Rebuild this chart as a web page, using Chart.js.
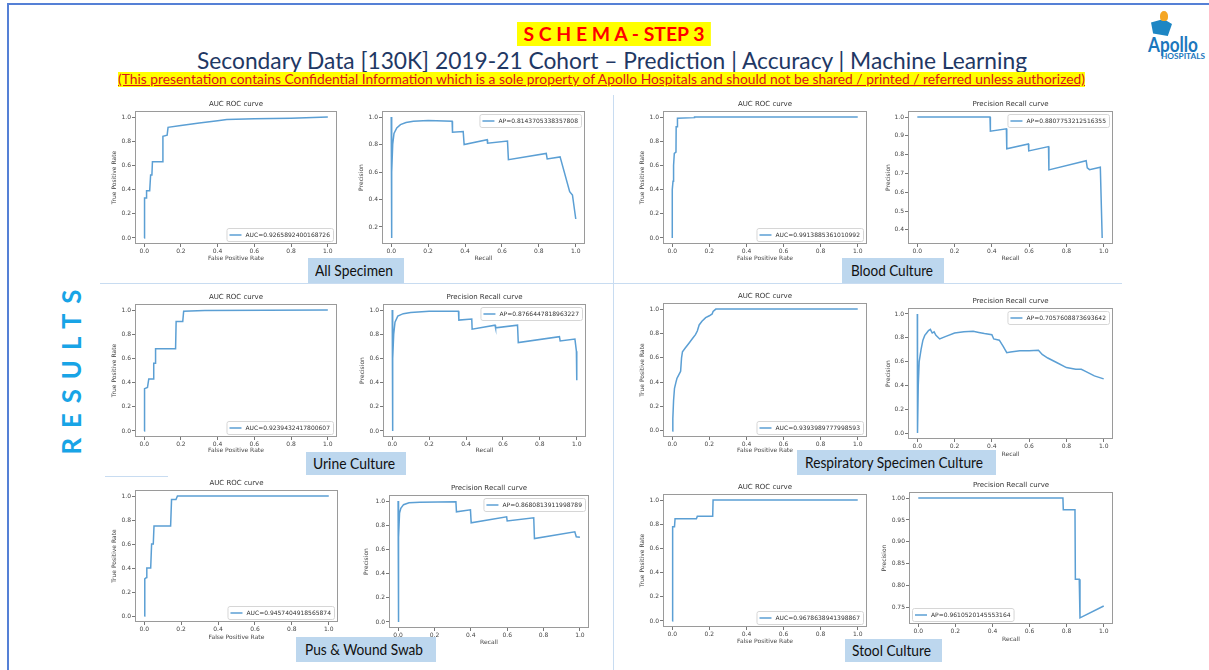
<!DOCTYPE html>
<html><head><meta charset="utf-8">
<script src="https://cdn.jsdelivr.net/npm/chart.js@4.4.1/dist/chart.umd.min.js"></script>
<style>
html,body{margin:0;padding:0;}
body{width:1209px;height:670px;overflow:hidden;background:#fff;position:relative;font-family:Lato,"Open Sans",sans-serif;}
canvas{position:absolute;}
.frame{position:absolute;left:7px;top:3px;width:1230px;height:700px;border:2px solid #5580d6;box-sizing:border-box;}
.fit{position:absolute;white-space:nowrap;transform-origin:0 50%;}
.hl{position:absolute;height:1px;background:#c8dcf1;}
.vl{position:absolute;width:1px;background:#c8dcf1;}
.lbl{position:absolute;background:#bdd7ee;}
</style></head><body>
<div class="frame"></div>
<div class="fit" data-w="194" style="left:517px;top:22px;height:24px;line-height:24px;padding:0 6px;background:#ffff00;color:#ff0000;font-weight:700;font-size:18px;">S C H E M A - STEP 3</div>
<div class="fit" data-w="830" style="left:197px;top:46px;line-height:28px;font-size:23px;color:#1f3864;">Secondary Data [130K] 2019-21 Cohort – Prediction | Accuracy | Machine Learning</div>
<div class="fit" data-w="967" style="left:118px;top:72px;height:15px;line-height:15px;font-size:13px;background:#ffff00;color:#d9141b;text-decoration:underline;">(This presentation contains Confidential Information which is a sole property of Apollo Hospitals and should not be shared / printed / referred unless authorized)</div>
<div style="position:absolute;left:1151px;top:19px;width:21px;height:17px;background:#1d86c4;clip-path:polygon(0 20%,60% 0,100% 30%,80% 100%,10% 85%);"></div>
<div style="position:absolute;left:1160px;top:11px;width:8px;height:10px;background:#f5a623;border-radius:50% 50% 40% 40%;"></div>
<div class="fit" data-w="50" style="left:1148px;top:34px;line-height:20px;font-size:20px;font-weight:700;color:#1b77bd;">Apollo</div>
<div class="fit" data-w="44" style="left:1161px;top:53px;line-height:7px;font-size:7px;font-weight:700;color:#1b77bd;">HOSPITALS</div>
<div id="results" style="position:absolute;white-space:nowrap;font-size:26px;font-weight:700;color:#18a4e6;letter-spacing:10px;line-height:26px;">RESULTS</div>
<div class="vl" style="left:613px;top:95px;height:575px;"></div>
<div class="hl" style="left:100px;top:283px;width:1022px;"></div>
<div class="hl" style="left:105px;top:476px;width:63px;"></div>
<script>
// ---------- DATA ----------
const rocXTicks = [0, 0.2, 0.4, 0.6, 0.8, 1.0];
const unitYTicks = [0, 0.2, 0.4, 0.6, 0.8, 1.0];
const allPrYTicks = [0.2, 0.4, 0.6, 0.8, 1.0];
const bloodPrYTicks = [0.4, 0.5, 0.6, 0.7, 0.8, 0.9, 1.0];
const stoolPrYTicks = [0.75, 0.80, 0.85, 0.90, 0.95, 1.00];

const rocTitle = 'AUC ROC curve';
const prTitle = 'Precision Recall curve';
const specimens = ['All Specimen', 'Blood Culture', 'Urine Culture', 'Respiratory Specimen Culture', 'Pus & Wound Swab', 'Stool Culture'];
const aucLabels = ['AUC=0.9265892400168726', 'AUC=0.9913885361010992', 'AUC=0.9239432417800607', 'AUC=0.9393989777998593', 'AUC=0.9457404918565874', 'AUC=0.9678638941398867'];
const apLabels = ['AP=0.8143705338357808', 'AP=0.8807753212516355', 'AP=0.8766447818963227', 'AP=0.7057608873693642', 'AP=0.8680813911998789', 'AP=0.9610520145553164'];

const allRocFpr = [0, 0, 0.004, 0.013, 0.013, 0.03, 0.035, 0.042, 0.045, 0.1, 0.102, 0.125, 0.13, 0.2, 0.3, 0.4, 0.45, 0.6, 0.8, 1];
const allRocTpr = [0, 0.15, 0.33, 0.33, 0.39, 0.39, 0.52, 0.52, 0.63, 0.63, 0.84, 0.85, 0.915, 0.93, 0.95, 0.97, 0.98, 0.985, 0.99, 1];
const allPrRecall = [0, 0.001, 0.004, 0.008, 0.015, 0.03, 0.05, 0.08, 0.12, 0.2, 0.33, 0.332, 0.39, 0.395, 0.52, 0.522, 0.63, 0.635, 0.84, 0.845, 0.915, 0.967, 0.982, 1.0];
const allPrPrecision = [1.0, 0.12, 0.6, 0.8, 0.88, 0.92, 0.945, 0.96, 0.97, 0.975, 0.97, 0.89, 0.895, 0.80, 0.835, 0.81, 0.825, 0.69, 0.735, 0.695, 0.71, 0.457, 0.433, 0.258];

const bloodRocFpr = [0, 0, 0.004, 0.007, 0.011, 0.02, 0.021, 0.026, 0.028, 0.12, 0.12, 1];
const bloodRocTpr = [0, 0.4, 0.47, 0.6, 0.7, 0.71, 0.92, 0.92, 0.99, 0.995, 1.0, 1];
const bloodPrRecall = [0, 0.39, 0.392, 0.478, 0.48, 0.596, 0.598, 0.704, 0.706, 0.906, 0.912, 0.924, 0.982, 0.992];
const bloodPrPrecision = [1.0, 1.0, 0.925, 0.937, 0.831, 0.857, 0.82, 0.843, 0.719, 0.768, 0.73, 0.72, 0.733, 0.357];

const urineRocFpr = [0, 0.002, 0.018, 0.025, 0.05, 0.052, 0.06, 0.062, 0.171, 0.174, 0.21, 0.215, 0.33, 1];
const urineRocTpr = [0, 0.35, 0.36, 0.43, 0.43, 0.56, 0.56, 0.68, 0.68, 0.905, 0.905, 0.99, 0.997, 1];
const urinePrRecall = [0, 0.001, 0.004, 0.008, 0.015, 0.03, 0.06, 0.1, 0.2, 0.359, 0.361, 0.431, 0.433, 0.557, 0.56, 0.679, 0.683, 0.906, 0.91, 0.99, 0.998, 1.0];
const urinePrPrecision = [1.0, 0.0, 0.6, 0.8, 0.9, 0.95, 0.97, 0.98, 0.99, 0.99, 0.917, 0.925, 0.842, 0.875, 0.853, 0.875, 0.731, 0.78, 0.745, 0.76, 0.66, 0.42];

const respRocFpr = [0, 0.003, 0.007, 0.012, 0.02, 0.025, 0.035, 0.045, 0.05, 0.055, 0.07, 0.09, 0.11, 0.125, 0.135, 0.145, 0.16, 0.18, 0.2, 0.215, 0.22, 0.235, 1];
const respRocTpr = [0, 0.1, 0.25, 0.35, 0.4, 0.43, 0.46, 0.49, 0.6, 0.65, 0.68, 0.72, 0.76, 0.79, 0.82, 0.87, 0.9, 0.93, 0.945, 0.96, 0.98, 1.0, 1];
const respPrRecall = [0, 0.001, 0.005, 0.01, 0.02, 0.03, 0.04, 0.05, 0.06, 0.07, 0.08, 0.09, 0.1, 0.12, 0.15, 0.2, 0.25, 0.3, 0.33, 0.36, 0.4, 0.41, 0.44, 0.46, 0.48, 0.5, 0.55, 0.6, 0.65, 0.67, 0.7, 0.75, 0.8, 0.85, 0.88, 0.9, 0.95, 1.0];
const respPrPrecision = [1.0, 0.0, 0.4, 0.6, 0.7, 0.78, 0.82, 0.84, 0.86, 0.87, 0.84, 0.85, 0.82, 0.79, 0.81, 0.84, 0.85, 0.855, 0.845, 0.835, 0.825, 0.79, 0.78, 0.73, 0.675, 0.68, 0.69, 0.69, 0.695, 0.66, 0.63, 0.59, 0.55, 0.535, 0.535, 0.52, 0.48, 0.455];

const pusRocFpr = [0, 0.003, 0.012, 0.014, 0.035, 0.04, 0.049, 0.053, 0.143, 0.148, 0.172, 0.18, 1];
const pusRocTpr = [0, 0.31, 0.32, 0.4, 0.4, 0.6, 0.6, 0.75, 0.75, 0.97, 0.97, 1.0, 1];
const pusPrRecall = [0, 0.001, 0.004, 0.008, 0.015, 0.03, 0.06, 0.12, 0.318, 0.321, 0.398, 0.402, 0.597, 0.6, 0.746, 0.75, 0.972, 0.98, 1.0];
const pusPrPrecision = [1.0, 0.0, 0.7, 0.9, 0.94, 0.97, 0.985, 0.99, 0.995, 0.911, 0.927, 0.82, 0.87, 0.835, 0.862, 0.69, 0.745, 0.705, 0.7];

const stoolRocFpr = [0, 0.002, 0.012, 0.015, 0.13, 0.135, 0.218, 0.22, 1];
const stoolRocTpr = [0, 0.78, 0.78, 0.845, 0.845, 0.865, 0.865, 1.0, 1];
const stoolPrRecall = [0, 0.78, 0.782, 0.845, 0.847, 0.868, 0.872, 1.0];
const stoolPrPrecision = [1.0, 1.0, 0.973, 0.973, 0.815, 0.815, 0.727, 0.754];

// ---------- LAYOUT (positions only) ----------
const BLUE = '#5b9fd4';
const panels = [
  {box:[135,111,337,244], xs:allRocFpr, ys:allRocTpr, title:rocTitle, legend:aucLabels[0], loc:'lr', xt:'False Positive Rate', yt:'True Positive Rate', yr:[-0.05,1.05], yticks:unitYTicks, yOff:20, xOff:14},
  {box:[382,111,585,244], xs:allPrRecall, ys:allPrPrecision, title:null, legend:apLabels[0], loc:'ur', xt:'Recall', yt:'Precision', yr:[0.076,1.044], yticks:allPrYTicks, yOff:20, xOff:14},
  {box:[663,111,867,244], xs:bloodRocFpr, ys:bloodRocTpr, title:rocTitle, legend:aucLabels[1], loc:'lr', xt:'False Positive Rate', yt:'True Positive Rate', yr:[-0.05,1.05], yticks:unitYTicks, yOff:20, xOff:14},
  {box:[908,111,1113,244], xs:bloodPrRecall, ys:bloodPrPrecision, title:prTitle, legend:apLabels[1], loc:'ur', xt:'Recall', yt:'Precision', yr:[0.325,1.032], yticks:bloodPrYTicks, yOff:19, xOff:14},
  {box:[135,304,337,437], xs:urineRocFpr, ys:urineRocTpr, title:rocTitle, legend:aucLabels[2], loc:'lr', xt:'False Positive Rate', yt:'True Positive Rate', yr:[-0.05,1.05], yticks:unitYTicks, yOff:20, xOff:13},
  {box:[383,304,586,437], xs:urinePrRecall, ys:urinePrPrecision, title:prTitle, legend:apLabels[2], loc:'ur', xt:'Recall', yt:'Precision', yr:[-0.05,1.05], yticks:unitYTicks, yOff:20, xOff:13},
  {box:[663,303,867,437], xs:respRocFpr, ys:respRocTpr, title:rocTitle, legend:aucLabels[3], loc:'lr', xt:'False Positive Rate', yt:'True Positive Rate', yr:[-0.05,1.05], yticks:unitYTicks, yOff:20, xOff:13},
  {box:[908,308,1113,439], xs:respPrRecall, ys:respPrPrecision, title:prTitle, legend:apLabels[3], loc:'ur', xt:'Recall', yt:'Precision', yr:[-0.05,1.05], yticks:unitYTicks, yOff:19, xOff:15},
  {box:[135,490,338,622], xs:pusRocFpr, ys:pusRocTpr, title:rocTitle, legend:aucLabels[4], loc:'lr', xt:'False Positive Rate', yt:'True Positive Rate', yr:[-0.05,1.05], yticks:unitYTicks, yOff:20, xOff:15},
  {box:[389,495,589,628], xs:pusPrRecall, ys:pusPrPrecision, title:prTitle, legend:apLabels[4], loc:'ur', xt:'Recall', yt:'Precision', yr:[-0.05,1.05], yticks:unitYTicks, yOff:22, xOff:14},
  {box:[663,494,867,627], xs:stoolRocFpr, ys:stoolRocTpr, title:rocTitle, legend:aucLabels[5], loc:'lr', xt:'False Positive Rate', yt:'True Positive Rate', yr:[-0.05,1.05], yticks:unitYTicks, yOff:20, xOff:14},
  {box:[909,492,1113,624], xs:stoolPrRecall, ys:stoolPrPrecision, title:prTitle, legend:apLabels[5], loc:'ll', xt:'Recall', yt:'Precision', yr:[0.713,1.0137], yticks:stoolPrYTicks, yOff:24, xOff:15, dec:2}
];
const labelBoxes = [
  {i:0, b:[308,258,96,25], tx:315, tw:78},
  {i:1, b:[842,258,102,25], tx:851, tw:82},
  {i:2, b:[306,452,100,23], tx:313, tw:82},
  {i:3, b:[797,450,199,25], tx:805, tw:178},
  {i:4, b:[296,637,140,25], tx:305, tw:118},
  {i:5, b:[845,639,97,23], tx:852, tw:79}
];

Chart.defaults.font.family = '"DejaVu Sans", sans-serif';

const decoPlugin = {
  id: 'deco',
  afterDatasetsDraw(chart, args, opts) {
    const ctx = chart.ctx, ca = chart.chartArea;
    ctx.save();
    ctx.strokeStyle = '#9a9a9a';
    ctx.lineWidth = 1;
    ctx.strokeRect(Math.round(ca.left) + 0.5, Math.round(ca.top) + 0.5, Math.round(ca.right - ca.left) - 1, Math.round(ca.bottom - ca.top) - 1);
    if (opts.title) {
      ctx.font = '7px "DejaVu Sans"';
      ctx.fillStyle = '#333';
      ctx.textAlign = 'center';
      ctx.textBaseline = 'middle';
      ctx.fillText(opts.title, (ca.left + ca.right) / 2, ca.top - 6.5);
    }
    // legend inside plot area
    ctx.font = '6px "DejaVu Sans"';
    const tw = ctx.measureText(opts.legend).width;
    const w = 3 + 12 + 4 + tw + 3, h = 13;
    const x = opts.loc[1] === 'r' ? ca.right - 4 - w : ca.left + 3;
    const y = opts.loc[0] === 'l' ? ca.bottom - 3 - h : ca.top + 3;
    ctx.fillStyle = 'rgba(255,255,255,0.85)';
    ctx.strokeStyle = '#d6d6d6';
    ctx.beginPath();
    ctx.roundRect(x + 0.5, y + 0.5, w, h, 2);
    ctx.fill(); ctx.stroke();
    ctx.strokeStyle = BLUE; ctx.lineWidth = 1.5;
    ctx.beginPath(); ctx.moveTo(x + 3, y + h / 2 + 0.5); ctx.lineTo(x + 15, y + h / 2 + 0.5); ctx.stroke();
    ctx.fillStyle = '#333'; ctx.textAlign = 'left'; ctx.textBaseline = 'middle';
    ctx.fillText(opts.legend, x + 19, y + h / 2 + 0.5);
    ctx.restore();
  }
};

panels.forEach(p => {
  const [l, t, r, b] = p.box;
  const PL = 2, PT = 14, PR = 8;
  const YW = Math.round(p.yOff + 3.6);
  const XH = Math.round(p.xOff + 3.6);
  const W = r - l + YW + PL + PR;
  const H = b - t + PT + XH;
  const cv = document.createElement('canvas');
  cv.width = W; cv.height = H;
  cv.style.left = (l - YW - PL) + 'px';
  cv.style.top = (t - PT) + 'px';
  cv.style.width = W + 'px'; cv.style.height = H + 'px';
  document.body.appendChild(cv);
  const dec = p.dec || 1;
  const tickCommon = {font:{size:6}, color:'#444', padding:1, autoSkip:false, maxRotation:0};
  const gridCommon = {drawOnChartArea:false, drawTicks:true, tickLength:3, color:'#777'};
  new Chart(cv, {
    type: 'line',
    data: {datasets: [{data: p.xs.map((x, i) => ({x: x, y: p.ys[i]})), borderColor: BLUE, borderWidth: 1.5, pointRadius: 0, tension: 0, fill: false}]},
    options: {
      responsive: false, animation: false, devicePixelRatio: 1,
      layout: {padding: {left: PL, top: PT, right: PR, bottom: 0}},
      plugins: {legend: {display: false}, tooltip: {enabled: false}, title: {display: false},
        deco: {title: p.title, legend: p.legend, loc: p.loc}},
      scales: {
        x: {type: 'linear', min: -0.05, max: 1.05,
          afterBuildTicks: ax => { ax.ticks = rocXTicks.map(v => ({value: v})); },
          afterFit: s => { s.height = XH; },
          grid: gridCommon, border: {display: false},
          ticks: Object.assign({}, tickCommon, {callback: v => v.toFixed(1)}),
          title: {display: true, text: p.xt, font: {size: 6}, color: '#444', padding: 0}},
        y: {type: 'linear', min: p.yr[0], max: p.yr[1],
          afterBuildTicks: ax => { ax.ticks = p.yticks.map(v => ({value: v})); },
          afterFit: s => { s.width = YW; },
          grid: gridCommon, border: {display: false},
          ticks: Object.assign({}, tickCommon, {callback: v => v.toFixed(dec)}),
          title: {display: true, text: p.yt, font: {size: 6}, color: '#444', padding: 0}}
      }
    },
    plugins: [decoPlugin]
  });
});

labelBoxes.forEach(lb => {
  const d = document.createElement('div');
  d.className = 'lbl';
  d.style.left = lb.b[0] + 'px'; d.style.top = lb.b[1] + 'px';
  d.style.width = lb.b[2] + 'px'; d.style.height = lb.b[3] + 'px';
  document.body.appendChild(d);
  const s = document.createElement('div');
  s.className = 'fit';
  s.textContent = specimens[lb.i];
  s.dataset.w = lb.tw;
  s.style.cssText += 'font-size:15px;color:#111;line-height:' + lb.b[3] + 'px;left:' + lb.tx + 'px;top:' + lb.b[1] + 'px;';
  document.body.appendChild(s);
});

document.querySelectorAll('[data-w]').forEach(el => {
  const nat = el.getBoundingClientRect().width;
  el.style.transform = 'scaleX(' + (+el.dataset.w / nat) + ')';
});
const res = document.getElementById('results');
const rr = res.getBoundingClientRect();
const rw = rr.width - 10, rh = rr.height;
const k = 165 / rw;
res.style.left = (71 - rw / 2) + 'px';
res.style.top = (372 - rh / 2) + 'px';
res.style.transformOrigin = (rw / 2) + 'px 50%';
res.style.transform = 'rotate(-90deg) scaleX(' + k + ')';
</script>
</body></html>
